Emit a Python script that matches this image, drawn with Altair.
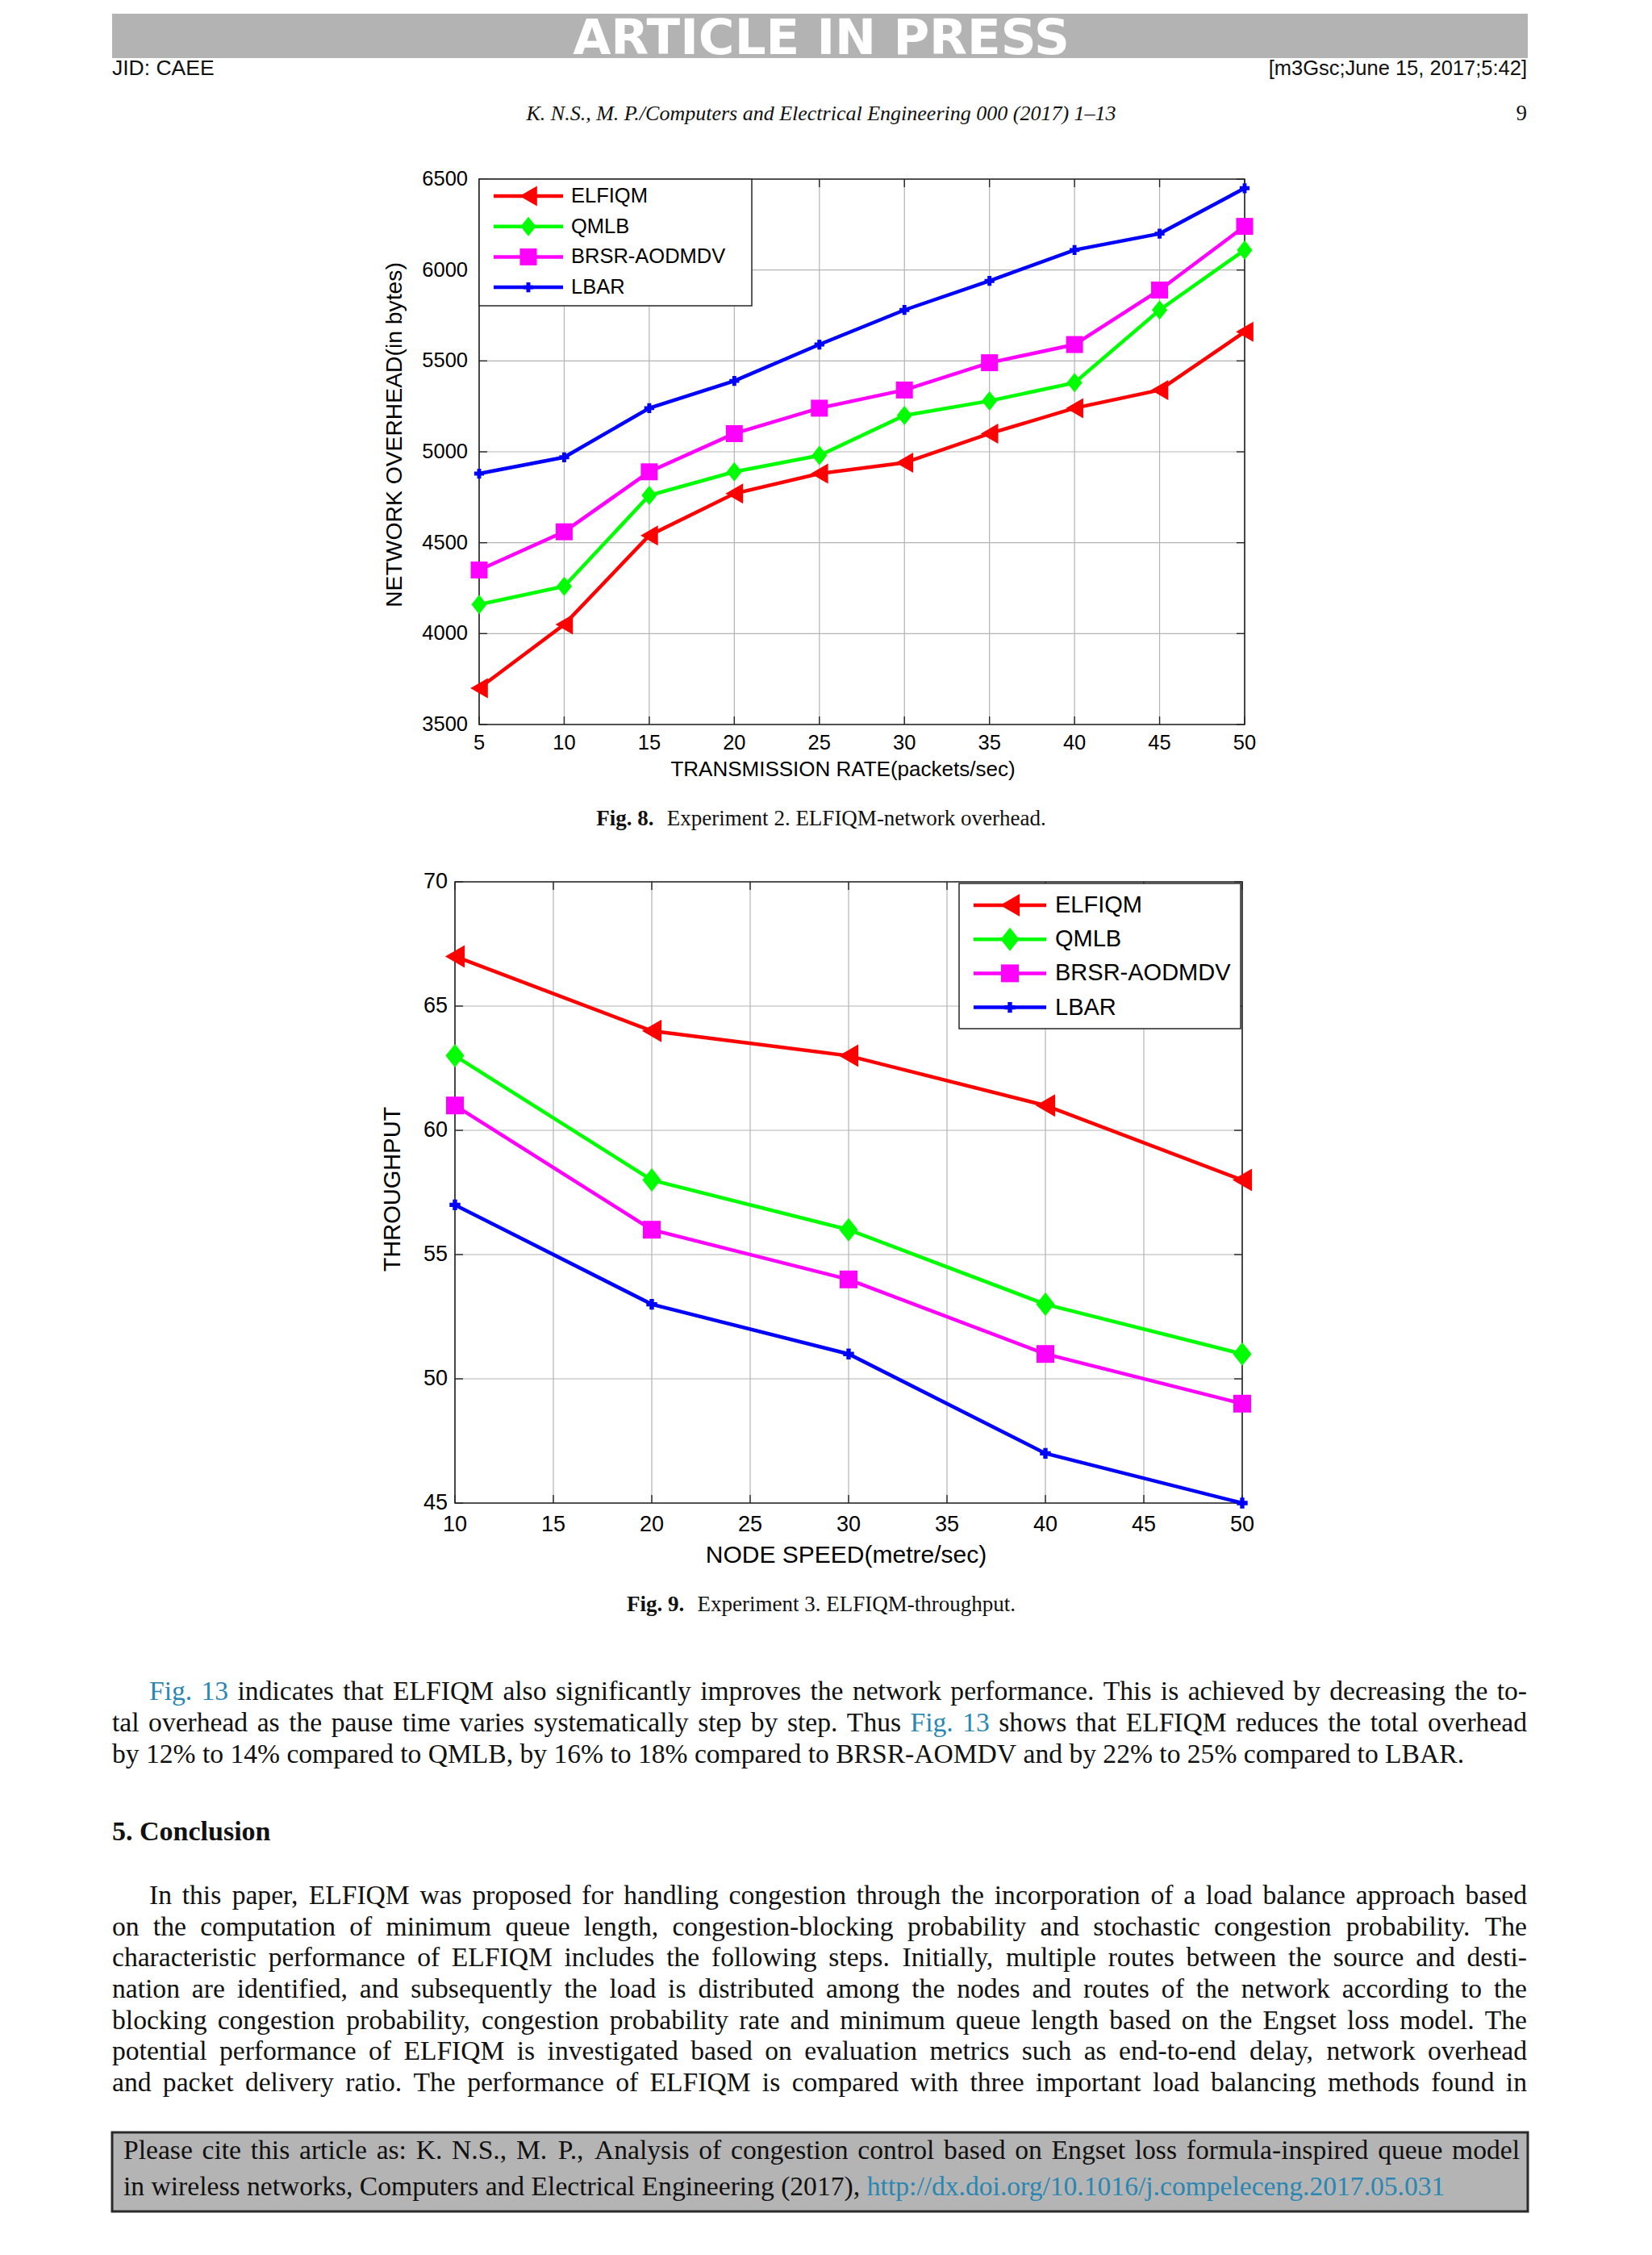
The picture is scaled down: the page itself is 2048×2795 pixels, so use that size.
import altair as alt
import pandas as pd

# ------------------------------------------------------------------ data
series_names = ["ELFIQM", "QMLB", "BRSR-AODMDV", "LBAR"]
series_colors = ["#ff0000", "#00ff00", "#ff00ff", "#0000ff"]

# Fig. 8 : network overhead vs transmission rate
rate = [5, 10, 15, 20, 25, 30, 35, 40, 45, 50]
oh_elfiqm = [3700, 4050, 4540, 4770, 4880, 4940, 5100, 5240, 5340, 5660]
oh_qmlb = [4160, 4260, 4760, 4890, 4980, 5200, 5280, 5380, 5780, 6110]
oh_brsr = [4350, 4560, 4890, 5100, 5240, 5340, 5490, 5590, 5890, 6240]
oh_lbar = [4880, 4970, 5240, 5390, 5590, 5780, 5940, 6110, 6200, 6450]
rate_ticks = [5, 10, 15, 20, 25, 30, 35, 40, 45, 50]
oh_ticks = [3500, 4000, 4500, 5000, 5500, 6000, 6500]

# Fig. 9 : throughput vs node speed
speed = [10, 20, 30, 40, 50]
tp_elfiqm = [67, 64, 63, 61, 58]
tp_qmlb = [63, 58, 56, 53, 51]
tp_brsr = [61, 56, 54, 51, 49]
tp_lbar = [57, 53, 51, 47, 45]
speed_ticks = [10, 15, 20, 25, 30, 35, 40, 45, 50]
tp_ticks = [45, 50, 55, 60, 65, 70]

# ------------------------------------------------------------------ page layout helpers
OFF = 8


def P(v):
    return v - OFF


ONE = pd.DataFrame({"a": [0]})
FRAME_C = "#262626"
GRID_C = "#b4b4b4"
SANS = "Liberation Sans"
SERIF = "Liberation Serif"
LINK = "#2a86b2"
INK = "#111111"

TIMES = {" ": 250, "!": 333, "%": 833, "'": 333, "(": 333, ")": 333, ",": 250, "-": 333,
         ".": 250, "/": 278, ":": 278, ";": 278, "?": 444, "–": 500,
         "A": 722, "B": 667, "C": 667, "D": 722, "E": 611, "F": 556, "G": 722, "H": 722,
         "I": 333, "J": 389, "K": 722, "L": 611, "M": 889, "N": 722, "O": 722, "P": 556,
         "Q": 722, "R": 667, "S": 556, "T": 611, "U": 722, "V": 722, "W": 944, "X": 722,
         "Y": 722, "Z": 611,
         "a": 444, "b": 500, "c": 444, "d": 500, "e": 444, "f": 333, "g": 500, "h": 500,
         "i": 278, "j": 278, "k": 500, "l": 278, "m": 778, "n": 500, "o": 500, "p": 500,
         "q": 500, "r": 333, "s": 389, "t": 278, "u": 500, "v": 500, "w": 722, "x": 500,
         "y": 500, "z": 444}
TIMES_B = dict(TIMES)
TIMES_B.update({"F": 611, "n": 556, "u": 556, "C": 722, "l": 278, "o": 500, "c": 444,
                "s": 389, "i": 278, "g": 500})


def tw(s, size, table=TIMES):
    return sum(table.get(c, 500) for c in s) * size / 1000.0


def words_of(segs):
    out = []
    for t, c in segs:
        for w in t.split():
            out.append((w, c))
    return out


def natural_size(segs, width):
    ws = words_of(segs)
    em = sum(tw(w, 1000) for w, _ in ws) / 1000.0 + 0.25 * (len(ws) - 1)
    return width / em


def place(segs, x0, x1, y, size, justify):
    ws = words_of(segs)
    n = len(ws)
    if justify and n > 1:
        em = sum(tw(w, 1000) for w, _ in ws) / 1000.0
        if (x1 - x0 - em * size) / (n - 1) < 0.12 * size:
            size = (x1 - x0) / (em + 0.12 * (n - 1))
        widths = [tw(w, size) for w, _ in ws]
        gap = (x1 - x0 - sum(widths)) / (n - 1)
    else:
        widths = [tw(w, size) for w, _ in ws]
        gap = 0.25 * size
    rows = []
    x = x0
    for (w, c), wd in zip(ws, widths):
        rows.append({"x": P(x + wd / 2.0), "y": P(y), "t": w, "c": c, "s": size})
        x += wd + gap
    return rows


def text_layer(rows, **kw):
    df = pd.DataFrame(rows)
    return alt.Chart(df).mark_text(**kw).encode(
        x=alt.X("x:Q", scale=None, axis=None),
        y=alt.Y("y:Q", scale=None, axis=None),
        text="t:N",
        color=alt.Color("c:N", scale=None),
        size=alt.Size("s:Q", scale=None),
    )


def rect(x0, x1, y0, y1, **kw):
    return alt.Chart(ONE).mark_rect(**kw).encode(
        x=alt.value(P(x0)), x2=alt.value(P(x1)), y=alt.value(P(y0)), y2=alt.value(P(y1)))


# ------------------------------------------------------------------ plot panels
def panel(cfg, xvals, all_vals, xticks, yticks):
    L, R, T, B = cfg["box"]
    xs = alt.Scale(domain=cfg["xdom"], range=[P(L), P(R)], nice=False, zero=False)
    ys = alt.Scale(domain=cfg["ydom"], range=[P(B), P(T)], nice=False, zero=False)
    xt = pd.DataFrame({"v": xticks})
    yt = pd.DataFrame({"v": yticks})
    X = alt.X("v:Q", scale=xs, axis=None)
    Y = alt.Y("v:Q", scale=ys, axis=None)
    layers = []
    layers.append(rect(L, R, T, B, fill="#ffffff"))
    layers.append(alt.Chart(xt).mark_rule(color=GRID_C, strokeWidth=1.2).encode(
        x=X, y=alt.value(P(T)), y2=alt.value(P(B))))
    layers.append(alt.Chart(yt).mark_rule(color=GRID_C, strokeWidth=1.2).encode(
        y=Y, x=alt.value(P(L)), x2=alt.value(P(R))))
    tl = 10
    for a, b in [(B - tl, B), (T, T + tl)]:
        layers.append(alt.Chart(xt).mark_rule(color=FRAME_C, strokeWidth=1.4).encode(
            x=X, y=alt.value(P(a)), y2=alt.value(P(b))))
    for a, b in [(L, L + tl), (R - tl, R)]:
        layers.append(alt.Chart(yt).mark_rule(color=FRAME_C, strokeWidth=1.4).encode(
            y=Y, x=alt.value(P(a)), x2=alt.value(P(b))))
    layers.append(rect(L, R, T, B, fill="transparent", stroke=FRAME_C, strokeWidth=1.6))

    shapes = cfg["shapes"]
    sizes = cfg["sizes"]
    for vals, color in zip(all_vals, series_colors):
        df = pd.DataFrame({"x": xvals, "y": vals})
        base = alt.Chart(df).encode(x=alt.X("x:Q", scale=xs, axis=None),
                                    y=alt.Y("y:Q", scale=ys, axis=None))
        layers.append(base.mark_line(color=color, strokeWidth=cfg["lw"]))
    for vals, color, shp, sz in zip(all_vals, series_colors, shapes, sizes):
        df = pd.DataFrame({"x": xvals, "y": vals})
        base = alt.Chart(df).encode(x=alt.X("x:Q", scale=xs, axis=None),
                                    y=alt.Y("y:Q", scale=ys, axis=None))
        layers.append(base.mark_point(shape=shp, size=sz, filled=True, color=color, opacity=1))

    # legend
    lb = cfg["legend_box"]
    layers.append(rect(lb[0], lb[1], lb[2], lb[3], fill="#ffffff", stroke=FRAME_C, strokeWidth=1.5))
    lx0, lx1, tx = cfg["legend_x"]
    ey0, dy = cfg["legend_y"]
    for i, (name, color, shp, sz) in enumerate(zip(series_names, series_colors, shapes, sizes)):
        ey = ey0 + i * dy
        layers.append(alt.Chart(ONE).mark_rule(color=color, strokeWidth=cfg["lw"]).encode(
            x=alt.value(P(lx0)), x2=alt.value(P(lx1)), y=alt.value(P(ey))))
        layers.append(alt.Chart(ONE).mark_point(shape=shp, size=sz, filled=True, color=color,
                                                opacity=1).encode(
            x=alt.value(P((lx0 + lx1) / 2.0)), y=alt.value(P(ey))))
        layers.append(alt.Chart(pd.DataFrame({"n": [name]})).mark_text(
            font=SANS, fontSize=cfg["legend_fs"], align="left", baseline="middle",
            color="#000000").encode(x=alt.value(P(tx)), y=alt.value(P(ey)), text="n:N"))

    # tick labels
    layers.append(alt.Chart(xt).mark_text(font=SANS, fontSize=cfg["tick_fs"], align="center",
                                          baseline="middle", color="#000000").encode(
        x=X, y=alt.value(P(cfg["xlab_y"])), text=alt.Text("v:Q", format="d")))
    layers.append(alt.Chart(yt).mark_text(font=SANS, fontSize=cfg["tick_fs"], align="right",
                                          baseline="middle", color="#000000").encode(
        y=Y, x=alt.value(P(cfg["ylab_x"])), text=alt.Text("v:Q", format="d")))
    # axis titles
    xtx, xty, xtt, xfs = cfg["xtitle"]
    layers.append(alt.Chart(pd.DataFrame({"n": [xtt]})).mark_text(
        font=SANS, fontSize=xfs, align="center", baseline="middle", color="#000000").encode(
        x=alt.value(P(xtx)), y=alt.value(P(xty)), text="n:N"))
    ytx, yty, ytt, yfs = cfg["ytitle"]
    layers.append(alt.Chart(pd.DataFrame({"n": [ytt]})).mark_text(
        font=SANS, fontSize=yfs, align="center", baseline="middle", angle=270,
        color="#000000").encode(x=alt.value(P(ytx)), y=alt.value(P(yty)), text="n:N"))
    return layers


DIAMOND = "M0,-1L0.8,0L0,1L-0.8,0Z"

cfg1 = dict(box=(594, 1543, 222, 898), xdom=[5, 50], ydom=[3500, 6500], lw=4.5,
            shapes=["triangle-left", DIAMOND, "square", "cross"],
            sizes=[625, 576, 441, 150],
            legend_box=(594, 932, 222, 379), legend_x=(612, 698, 708), legend_y=(243, 37.7),
            legend_fs=25.5, tick_fs=25.5, xlab_y=921, ylab_x=580,
            xtitle=(1045, 954, "TRANSMISSION RATE(packets/sec)", 26),
            ytitle=(490, 539, "NETWORK OVERHEAD(in bytes)", 28.3))

cfg2 = dict(box=(564, 1540, 1093, 1863), xdom=[10, 50], ydom=[45, 70], lw=4.5,
            shapes=["triangle-left", DIAMOND, "square", "cross"],
            sizes=[784, 841, 484, 180],
            legend_box=(1189, 1538, 1095, 1275), legend_x=(1207, 1297, 1308),
            legend_y=(1122, 42.2),
            legend_fs=29, tick_fs=27, xlab_y=1890, ylab_x=555,
            xtitle=(1049, 1928, "NODE SPEED(metre/sec)", 30),
            ytitle=(487, 1474, "THROUGHPUT", 29))

layers = []
layers += panel(cfg1, rate, [oh_elfiqm, oh_qmlb, oh_brsr, oh_lbar], rate_ticks, oh_ticks)
layers += panel(cfg2, speed, [tp_elfiqm, tp_qmlb, tp_brsr, tp_lbar], speed_ticks, tp_ticks)

# ------------------------------------------------------------------ page furniture
layers.append(rect(139, 1894, 17, 72, fill="#b3b3b3"))
header_rows = [{"x": P(1018), "y": P(67), "t": "ARTICLE IN PRESS", "c": "#ffffff", "s": 61}]
layers.append(text_layer(header_rows, font="DejaVu Sans", fontWeight="bold", align="center",
                         baseline="alphabetic"))
layers.append(text_layer([{"x": P(139), "y": P(93), "t": "JID: CAEE", "c": INK, "s": 26.5}],
                         font=SANS, align="left", baseline="alphabetic"))
layers.append(text_layer([{"x": P(1893), "y": P(93), "t": "[m3Gsc;June 15, 2017;5:42]",
                           "c": INK, "s": 25.5}], font=SANS, align="right", baseline="alphabetic"))
layers.append(text_layer([{"x": P(1018), "y": P(149),
                           "t": "K. N.S., M. P./Computers and Electrical Engineering 000 (2017) 1–13",
                           "c": INK, "s": 26}], font=SERIF, fontStyle="italic", align="center",
                         baseline="alphabetic"))
layers.append(text_layer([{"x": P(1893), "y": P(149), "t": "9", "c": INK, "s": 27}],
                         font=SERIF, align="right", baseline="alphabetic"))

# captions
bold_rows = []
reg_rows = []


def caption(bold_txt, rest, cx, y, size):
    bw = [(w, tw(w, size, TIMES_B)) for w in bold_txt.split()]
    rw = [(w, tw(w, size)) for w in rest.split()]
    sp = 0.25 * size
    total = sum(w for _, w in bw) + sp * (len(bw) - 1) + 0.6 * size + \
        sum(w for _, w in rw) + sp * (len(rw) - 1)
    x = cx - total / 2.0
    for w, wd in bw:
        bold_rows.append({"x": P(x + wd / 2), "y": P(y), "t": w, "c": INK, "s": size})
        x += wd + sp
    x += 0.6 * size - sp
    for w, wd in rw:
        reg_rows.append({"x": P(x + wd / 2), "y": P(y), "t": w, "c": INK, "s": size})
        x += wd + sp


caption("Fig. 8.", "Experiment 2. ELFIQM-network overhead.", 1018, 1023, 27)
caption("Fig. 9.", "Experiment 3. ELFIQM-throughput.", 1018, 1997, 27)

# body text
LM, RM, IND = 139, 1893, 185
para1 = [
    ([("Fig. 13", LINK), ("indicates that ELFIQM also significantly improves the network performance. "
                           "This is achieved by decreasing the to-", INK)], IND, RM, True, 2107),
    ([("tal overhead as the pause time varies systematically step by step. Thus", INK),
      ("Fig. 13", LINK), ("shows that ELFIQM reduces the total overhead", INK)], LM, RM, True, 2146),
    ([("by 12% to 14% compared to QMLB, by 16% to 18% compared to BRSR-AOMDV and by 22% to 25% "
       "compared to LBAR.", INK)], LM, RM, False, 2185),
]
para2_txt = [
    "In this paper, ELFIQM was proposed for handling congestion through the incorporation of a load balance approach based",
    "on the computation of minimum queue length, congestion-blocking probability and stochastic congestion probability. The",
    "characteristic performance of ELFIQM includes the following steps. Initially, multiple routes between the source and desti-",
    "nation are identified, and subsequently the load is distributed among the nodes and routes of the network according to the",
    "blocking congestion probability, congestion probability rate and minimum queue length based on the Engset loss model. The",
    "potential performance of ELFIQM is investigated based on evaluation metrics such as end-to-end delay, network overhead",
    "and packet delivery ratio. The performance of ELFIQM is compared with three important load balancing methods found in",
]
para2_y = [2360, 2399, 2437, 2476, 2515, 2553, 2592]
para2 = [([(t, INK)], IND if i == 0 else LM, RM, True, para2_y[i]) for i, t in enumerate(para2_txt)]
cite = [
    ([("Please cite this article as: K. N.S., M. P., Analysis of congestion control based on Engset "
       "loss formula-inspired queue model", INK)], 153, 1884, True, 2676),
    ([("in wireless networks, Computers and Electrical Engineering (2017),", INK),
      ("http://dx.doi.org/10.1016/j.compeleceng.2017.05.031", LINK)], 153, 1884, False, 2721),
]
# calibrate the serif size from the two unjustified lines' widths in the page
s_a = natural_size(cite[1][0], 1827 - 153)
s_b = natural_size(para1[2][0], 1779 - 139)
body_size = (s_a + s_b) / 2.0

for segs, x0, x1, just, y in para1 + para2 + cite:
    reg_rows.extend(place(segs, x0, x1, y, body_size, just))

bold_rows.append({"x": P(139 + tw("5. Conclusion", 34, TIMES_B) / 2), "y": P(2281),
                  "t": "5. Conclusion", "c": INK, "s": 34})

layers.append(rect(139, 1894, 2643, 2741, fill="#b4b4b4", stroke="#2a2a2a", strokeWidth=3))
layers.append(text_layer(reg_rows, font=SERIF, align="center", baseline="alphabetic"))
layers.append(text_layer(bold_rows, font=SERIF, fontWeight="bold", align="center",
                         baseline="alphabetic"))

chart = alt.layer(*layers).resolve_scale(x="independent", y="independent").properties(
    width=2032, height=2770,
    autosize=alt.AutoSizeParams(type="none"),
    padding=0,
    background="#ffffff",
).configure_view(stroke=None)

chart.save("out.html", embed_options={"renderer": "svg", "actions": False})
